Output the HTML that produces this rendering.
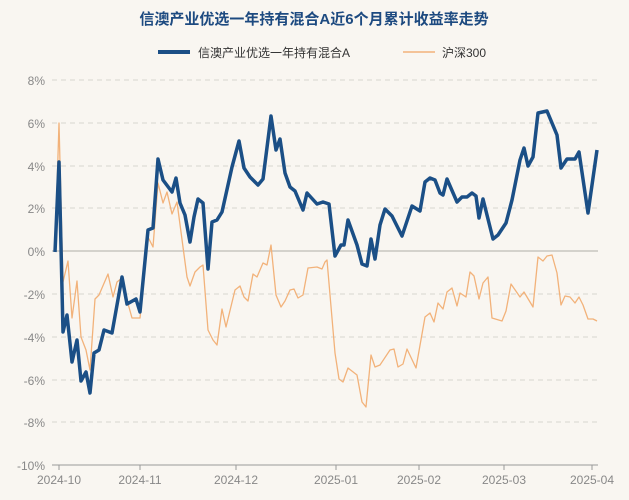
<!DOCTYPE html><html><head><meta charset="utf-8"><style>body{margin:0;background:#f9f6f1;}svg{display:block;font-family:"Liberation Sans","Noto Sans CJK SC",sans-serif}</style></head><body>
<svg width="629" height="500" viewBox="0 0 629 500">
<rect width="629" height="500" fill="#f9f6f1"/>
<text x="314" y="24" text-anchor="middle" font-size="15" font-weight="bold" fill="#1d4a80">信澳产业优选一年持有混合A近6个月累计收益率走势</text>
<line x1="158" y1="52" x2="190" y2="52" stroke="#1b4f86" stroke-width="4"/>
<text x="198" y="57" font-size="12" fill="#333">信澳产业优选一年持有混合A</text>
<line x1="403" y1="52" x2="435" y2="52" stroke="#f2b27a" stroke-width="1.5"/>
<text x="442" y="57" font-size="12" fill="#333">沪深300</text>
<g stroke="#d8d5d0" stroke-dasharray="5,4" stroke-width="1">
<line x1="52" y1="80" x2="598" y2="80"/><line x1="52" y1="123" x2="598" y2="123"/><line x1="52" y1="166" x2="598" y2="166"/><line x1="52" y1="208" x2="598" y2="208"/><line x1="52" y1="294" x2="598" y2="294"/><line x1="52" y1="337" x2="598" y2="337"/><line x1="52" y1="380" x2="598" y2="380"/><line x1="52" y1="422" x2="598" y2="422"/>
</g>
<line x1="52" y1="251" x2="598" y2="251" stroke="#c8c5c0" stroke-width="1.5"/>
<line x1="52" y1="465" x2="598" y2="465" stroke="#999" stroke-width="1"/>
<g font-size="12" fill="#888" text-anchor="end">
<text x="45" y="85">8%</text><text x="45" y="128">6%</text><text x="45" y="171">4%</text><text x="45" y="213">2%</text><text x="45" y="256">0%</text><text x="45" y="299">-2%</text><text x="45" y="342">-4%</text><text x="45" y="385">-6%</text><text x="45" y="427">-8%</text><text x="45" y="470">-10%</text>
</g>
<g font-size="12" fill="#888" text-anchor="middle">
<text x="59" y="484">2024-10</text><text x="140" y="484">2024-11</text><text x="236" y="484">2024-12</text><text x="336" y="484">2025-01</text><text x="419" y="484">2025-02</text><text x="504" y="484">2025-03</text><text x="592" y="484">2025-04</text>
</g>
<g stroke="#999"><line x1="59" y1="465" x2="59" y2="470"/><line x1="140" y1="465" x2="140" y2="470"/><line x1="236" y1="465" x2="236" y2="470"/><line x1="336" y1="465" x2="336" y2="470"/><line x1="419" y1="465" x2="419" y2="470"/><line x1="504" y1="465" x2="504" y2="470"/><line x1="592" y1="465" x2="592" y2="470"/></g>
<polyline fill="none" stroke="#f2b27a" stroke-width="1.3" stroke-linejoin="round" points="55,252 59,123 63,282 68,261 72,318 77,281 81,337 86,350 90,370 95,299 99,295 108,274 113,297 117,282 122,278 127,300 132,318 140,318 148,237 153,247 158,183 163,203 167,192 172,214 177,202 187,277 190,286 195,272 200,267 203,265 208,330 213,340 217,345 222,309 226,327 235,290 240,286 244,297 248,301 253,274 257,277 263,263 267,265 271,245 276,295 281,307 285,301 290,290 294,289 298,298 303,295 308,268 317,267 322,269 325,262 327,260 335,353 339,379 343,382 348,368 357,375 362,402 366,407 371,355 375,367 380,365 390,350 394,349 398,367 403,364 407,349 416,368 425,317 430,313 434,322 438,303 443,309 447,292 452,288 457,306 460,293 466,297 470,272 474,276 479,299 483,283 488,277 492,318 502,321 506,311 511,284 520,297 524,292 533,307 538,257 543,261 547,256 552,255 557,273 561,305 565,296 570,297 575,303 579,297 583,305 588,319 593,319 597,321"/>
<polyline fill="none" stroke="#1b4f86" stroke-width="3.5" stroke-linejoin="round" points="55,252 59,162 63,332 67,315 72,362 77,340 81,381 86,372 90,393 94,353 99,350 104,330 112,333 122,277 127,304 136,299 140,312 148,230 153,228 158,159 163,180 172,192 176,178 180,203 185,215 190,242 194,217 198,199 203,203 208,269 212,222 217,220 222,212 232,167 239,141 244,168 250,177 258,185 263,179 271,116 276,150 280,139 285,173 290,187 295,191 303,210 307,193 317,204 323,202 329,204 335,256 341,245 344,245 348,220 357,245 362,264 367,266 371,239 375,259 380,225 385,209 392,216 402,236 412,206 420,211 425,182 430,178 435,180 440,193 443,195 447,179 457,202 462,197 467,197 472,193 476,196 479,218 483,199 493,239 498,235 506,223 512,200 520,160 524,148 528,166 533,157 538,113 547,111 557,135 561,168 567,159 575,159 579,152 588,213 597,150"/>
</svg></body></html>
